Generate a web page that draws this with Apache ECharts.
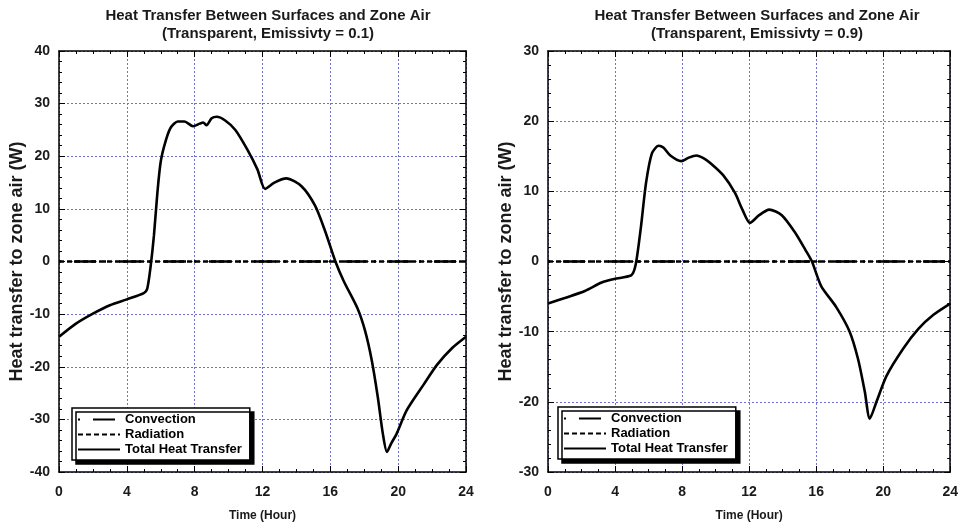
<!DOCTYPE html>
<html>
<head>
<meta charset="utf-8">
<script src="https://cdn.jsdelivr.net/npm/echarts@6/dist/echarts.min.js"></script>
<style>
html,body{margin:0;padding:0;background:#fff;}
#c{width:961px;height:527px;}
</style>
</head>
<body>
<div id="c"></div>
<script>
// ---- data ----
const titleLeft = 'Heat Transfer Between Surfaces and Zone Air\n(Transparent, Emissivty = 0.1)';
const titleRight = 'Heat Transfer Between Surfaces and Zone Air\n(Transparent, Emissivty = 0.9)';
const xName = 'Time (Hour)';
const yName = 'Heat transfer to zone air (W)';
const seriesNames = ['Convection', 'Radiation', 'Total Heat Transfer'];

const hoursLeft = [0, 1, 2, 3, 4, 5, 5.2, 5.4, 5.6, 5.8, 6.0, 6.3, 6.6, 7.0, 7.4, 7.9, 8.3, 8.5, 8.7, 9.0, 9.3, 9.8, 10.4, 11.1, 11.7, 12.15, 12.7, 13.4, 14.3, 15.1, 15.7, 16.3, 16.8, 17.6, 18.05, 18.45, 18.8, 19.1, 19.34, 19.6, 19.9, 20.5, 21.5, 22.3, 23.2, 24];
const totalLeft = [-14.3, -11.8, -9.9, -8.3, -7.2, -6.0, -5.2, -1.0, 5, 13, 19, 23, 25.5, 26.6, 26.6, 25.7, 26.2, 26.4, 25.9, 27.2, 27.5, 26.8, 25, 21.3, 17.5, 13.8, 15.0, 15.8, 14.3, 10.6, 5.7, 0, -3.8, -8.9, -13.2, -18.9, -25.8, -32.8, -36.2, -34.5, -32.8, -28.3, -23.4, -19.6, -16.4, -14.3];

const hoursRight = [0, 1, 2.2, 3.2, 3.95, 4.95, 5.15, 5.3, 5.55, 5.85, 6.2, 6.6, 6.9, 7.3, 7.95, 8.4, 8.85, 9.3, 9.7, 10.45, 11.15, 11.6, 12.05, 12.6, 13.2, 13.95, 14.75, 15.35, 15.75, 16.3, 17.2, 18.0, 18.5, 18.9, 19.2, 19.6, 20.2, 21.2, 22.1, 23.0, 24];
const totalRight = [-6.0, -5.2, -4.2, -3.0, -2.5, -2.0, -1.2, 0.5, 5, 11.2, 15.4, 16.5, 16.2, 15.1, 14.3, 14.8, 15.1, 14.7, 14, 12.3, 9.8, 7.4, 5.5, 6.6, 7.4, 6.6, 4.1, 1.7, 0, -3.5, -6.5, -10, -13.9, -18.5, -22.4, -20, -16.3, -12.4, -9.6, -7.6, -6.0];

const zeroHours = [0, 24];
const convection = [0, 0];
const radiation = [0, 0];

const xTicks = [0, 4, 8, 12, 16, 20, 24];
const yRangeLeft = [-40, 40];
const yRangeRight = [-30, 30];

// ---- chart ----
const FONT = '"Liberation Sans", Arial, sans-serif';
const chart = echarts.init(document.getElementById('c'), null, {renderer: 'canvas'});

function pairs(xs, ys) { return xs.map((x, i) => [x, ys[i]]); }

const grids = [
  {left: 59, width: 407, top: 51, height: 424},
  {left: 548, width: 407, top: 51, height: 424}
];

const xAxes = [], yAxes = [], series = [];
const labelStyle = {color: '#1a1a1a', fontWeight: 'bold', fontSize: 14, fontFamily: FONT};
const gridLine = {show: true, lineStyle: {color: '#7070d8', width: 1, type: [2, 2]}};

[0, 1].forEach(g => {
  const yr = g === 0 ? yRangeLeft : yRangeRight;
  const common = {
    type: 'value', gridIndex: g, min: xTicks[0], max: xTicks[xTicks.length - 1], interval: 4,
    axisLine: {show: true, onZero: false, lineStyle: {color: '#000', width: 1.5}},
    axisTick: {show: true, inside: true, length: 6, lineStyle: {color: '#000', width: 1}},
    minorTick: {show: true, splitNumber: 4, length: 3, lineStyle: {color: '#000', width: 1}},
  };
  xAxes.push(Object.assign({}, common, {
    position: 'bottom',
    name: xName, nameLocation: 'middle', nameGap: 38,
    nameTextStyle: {color: '#1a1a1a', fontWeight: 'bold', fontSize: 12, fontFamily: FONT},
    axisLabel: Object.assign({margin: 13}, labelStyle),
    splitLine: gridLine
  }));
  xAxes.push(Object.assign({}, common, {
    position: 'top', axisLabel: {show: false}, splitLine: {show: false}
  }));
  const ycommon = {
    type: 'value', gridIndex: g, min: yr[0], max: yr[1], interval: 10,
    axisLine: {show: true, onZero: false, lineStyle: {color: '#000', width: 1.5}},
    axisTick: {show: true, inside: true, length: 6, lineStyle: {color: '#000', width: 1}},
    minorTick: {show: true, splitNumber: 5, length: 3, lineStyle: {color: '#000', width: 1}},
  };
  yAxes.push(Object.assign({}, ycommon, {
    position: 'left',
    name: yName, nameLocation: 'middle', nameGap: 30, nameRotate: 90,
    nameTextStyle: {color: '#1a1a1a', fontWeight: 'bold', fontSize: 18, fontFamily: FONT},
    axisLabel: Object.assign({margin: 9}, labelStyle),
    splitLine: gridLine
  }));
  yAxes.push(Object.assign({}, ycommon, {
    position: 'right', axisLabel: {show: false}, splitLine: {show: false}
  }));

  const xi = g * 2, yi = g * 2;
  series.push({
    name: seriesNames[0], type: 'line', xAxisIndex: xi, yAxisIndex: yi,
    data: pairs(zeroHours, convection), symbol: 'none', z: 3,
    lineStyle: {color: '#000', width: 2.5, type: [2, 13, 22, 8]}, color: '#000'
  });
  series.push({
    name: seriesNames[1], type: 'line', xAxisIndex: xi, yAxisIndex: yi,
    data: pairs(zeroHours, radiation), symbol: 'none', z: 3,
    lineStyle: {color: '#000', width: 2.5, type: [5, 3]}, color: '#000'
  });
  series.push({
    name: seriesNames[2], type: 'line', xAxisIndex: xi, yAxisIndex: yi,
    data: g === 0 ? pairs(hoursLeft, totalLeft) : pairs(hoursRight, totalRight),
    symbol: 'none', smooth: 0.25, z: 4,
    lineStyle: {color: '#000', width: 2.6}, color: '#000'
  });
});

function legendAt(left, top) {
  return {
    show: true, orient: 'vertical', left: left, top: top,
    data: seriesNames, selectedMode: false,
    itemWidth: 42, itemHeight: 14, itemGap: 2,
    padding: [5, 8, 4, 5],
    itemStyle: {color: 'rgba(0,0,0,0)', borderColor: 'rgba(0,0,0,0)', borderWidth: 0},
    backgroundColor: '#fff', borderColor: '#000', borderWidth: 1.5, borderRadius: 0,
    shadowColor: '#000', shadowBlur: 0, shadowOffsetX: 4, shadowOffsetY: 4,
    textStyle: {color: '#000', fontWeight: 'bold', fontSize: 13, fontFamily: FONT, padding: [0, 0, 0, 0]}
  };
}

function titleAt(cx, text) {
  return {
    text: text, left: cx, top: 2, textAlign: 'center',
    textStyle: {color: '#1a1a1a', fontWeight: 'bold', fontSize: 15, fontFamily: FONT, lineHeight: 18}
  };
}

chart.setOption({
  animation: false,
  backgroundColor: '#fff',
  title: [titleAt(263, titleLeft), titleAt(752, titleRight)],
  legend: [legendAt(72, 408), legendAt(558, 407)],
  grid: grids,
  xAxis: xAxes,
  yAxis: yAxes,
  series: series
});
</script>
</body>
</html>
